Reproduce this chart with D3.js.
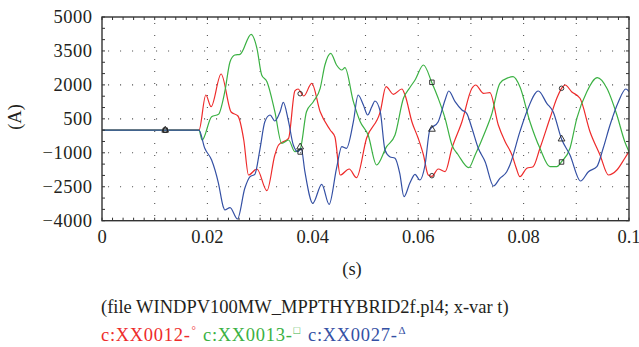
<!DOCTYPE html>
<html>
<head>
<meta charset="utf-8">
<script src="https://cdn.jsdelivr.net/npm/d3@7"></script>
<style>
  html, body { margin: 0; padding: 0; background: #fff; }
</style>
</head>
<body>
<div id="chart"></div>
<script>
// 横轴 / 纵轴刻度
const xTicks = [0, 0.02, 0.04, 0.06, 0.08, 0.1];
const xTickLabels = ['0', '0.02', '0.04', '0.06', '0.08', '0.1'];
const yTicks = [-4000, -2500, -1000, 500, 2000, 3500, 5000];
const yTickLabels = ['\u22124000', '\u22122500', '\u22121000', '500', '2000', '3500', '5000'];

// c:XX0012 (red)
const redTime = [0, 0.0184, 0.0197, 0.0207, 0.0226, 0.0245, 0.0258, 0.0269, 0.0278, 0.0294, 0.0313, 0.0328,
  0.0335, 0.0354, 0.0366, 0.0372, 0.0383, 0.0398, 0.0414, 0.0433, 0.0442, 0.0452, 0.0469, 0.0483, 0.0502,
  0.0528, 0.0539, 0.0553, 0.0569, 0.0575, 0.0588, 0.0600, 0.0610, 0.0619, 0.0626, 0.0638, 0.0651, 0.0664,
  0.0683, 0.0702, 0.0709, 0.0724, 0.0736, 0.0752, 0.0765, 0.0778, 0.0786, 0.0793, 0.0806, 0.0818, 0.0831,
  0.0850, 0.0863, 0.0872, 0.0879, 0.0891, 0.0907, 0.0926, 0.0945, 0.0961, 0.0977, 0.0992, 0.1];
const redCurrent = [0, 0, 1554, 1037, 2482, 803, 626, -434, -1980, -1715, -2674, -1097,
  -655, -359, 1731, 1819, 1510, 2071, 816, 8, -302, -1980, -1715, -2100, -359,
  816, 1921, 1585, 1819, 1554, 374, -359, -1097, -1980, -2038, -1715, -1835, -801,
  374, 1850, 1996, 1629, 1656, 229, -509, -1097, -1671, -2056, -1684, -1614, -801,
  524, 1408, 1850, 1996, 1700, 1408, -67, -1097, -1980, -1760, -1242, -950];

// c:XX0013 (green)
const greenTime = [0, 0.0184, 0.0190, 0.0208, 0.0221, 0.0233, 0.0243, 0.0252, 0.0262, 0.0283, 0.0294, 0.0303,
  0.0313, 0.0328, 0.0341, 0.0354, 0.0366, 0.0376, 0.0388, 0.0401, 0.0414, 0.0423, 0.0434, 0.0445, 0.0455,
  0.0461, 0.0477, 0.0490, 0.0505, 0.0521, 0.0540, 0.0556, 0.0572, 0.0584, 0.0594, 0.0610, 0.0626, 0.0638,
  0.0651, 0.0664, 0.0676, 0.0696, 0.0708, 0.0727, 0.0739, 0.0755, 0.0771, 0.0780, 0.0793, 0.0812, 0.0831,
  0.0850, 0.0863, 0.0872, 0.0888, 0.0901, 0.0920, 0.0940, 0.0958, 0.0977, 0.0992, 0.1];
const greenCurrent = [0, 0, -434, 595, 701, 1700, 3025, 3321, 3352, 4235, 3617, 2438,
  2142, 816, -580, -434, -951, -832, 816, 1258, 1850, 2879, 3396, 2879, 2658,
  2760, 1258, 374, -213, -1539, -730, -213, 1408, 1876, 2217, 2879, 2097, 1408,
  524, -655, -1097, -1658, -1097, -67, 670, 2071, 2318, 2362, 1921, 374, -801,
  -1614, -1614, -1393, -801, 524, 1700, 2318, 1850, 672, -509, -951];

// c:XX0027 (blue)
const blueTime = [0, 0.0184, 0.0195, 0.0208, 0.0221, 0.0230, 0.0233, 0.0243, 0.0257, 0.0271, 0.0281, 0.0290,
  0.0300, 0.0309, 0.0319, 0.0328, 0.0338, 0.0344, 0.0354, 0.0363, 0.0372, 0.0378, 0.0385, 0.0400, 0.0417,
  0.0431, 0.0445, 0.0455, 0.0464, 0.0477, 0.0486, 0.0496, 0.0504, 0.0512, 0.0518, 0.0528, 0.0537, 0.0546,
  0.0556, 0.0565, 0.0573, 0.0584, 0.0594, 0.0603, 0.0613, 0.0622, 0.0638, 0.0651, 0.0658, 0.0670, 0.0683,
  0.0692, 0.0702, 0.0714, 0.0727, 0.0743, 0.0755, 0.0768, 0.0774, 0.0793, 0.0806, 0.0828, 0.0844, 0.0856,
  0.0872, 0.0888, 0.0908, 0.0923, 0.0939, 0.0951, 0.0964, 0.0980, 0.0994, 0.1];
const blueCurrent = [0, 0, -801, -1318, -2348, -3381, -3527, -3425, -3925, -2568, -2055, -1950,
  -801, 374, 670, 405, 816, 1231, 374, -655, -951, -801, -1835, -3231, -2391,
  -3275, -1684, -730, -801, 374, 1554, 1112, 670, 1037, 1289, 816, -876, -1172,
  -1242, -1906, -2939, -2347, -1950, -2201, -1539, 8, 374, 1333, 1731, 1258, 891,
  745, 82, -801, -1393, -2467, -2127, -1835, -1539, -67, 816, 1731, 1187, 816,
  -390, -1097, -2246, -1835, -1614, -801, 229, 1258, 1819, 1700];

// 标记点
const markerTime = [0.012, 0.0376, 0.0626, 0.0872];
const redMarkers = [0, 1611, -2011, 1850];
const greenMarkers = [0, -964, 2115, -1406];
const blueMarkers = [0, -743, 39, -390];

const width = 639, height = 347;
const margin = { top: 17, left: 102 };
const innerW = 527, innerH = 203.7;
const ink = '#231f20';
const serif = "'Liberation Serif', 'Times New Roman', serif";
const fontSize = 18.5;

const svg = d3.select('#chart').append('svg')
  .attr('width', width)
  .attr('height', height)
  .style('display', 'block');

const x = d3.scaleLinear().domain([0, 0.1]).range([margin.left, margin.left + innerW]);
const y = d3.scaleLinear().domain([-4000, 5000]).range([margin.top + innerH, margin.top]);

// 点状网格
const gridX = d3.range(0.01, 0.1, 0.01);
svg.append('g').selectAll('line').data(gridX).enter().append('line')
  .attr('x1', d => x(d)).attr('x2', d => x(d))
  .attr('y1', y(5000) + 6).attr('y2', y(-4000))
  .attr('stroke', '#555').attr('stroke-width', 1.1)
  .attr('stroke-dasharray', '1.1,10.9');
svg.append('g').selectAll('line').data(yTicks.slice(1, -1)).enter().append('line')
  .attr('x1', x(0) + 6).attr('x2', x(0.1))
  .attr('y1', d => y(d)).attr('y2', d => y(d))
  .attr('stroke', '#555').attr('stroke-width', 1.1)
  .attr('stroke-dasharray', '1.1,10.9');

// 曲线
const line = (times) => d3.line()
  .x((d, i) => x(times[i]))
  .y(d => y(d))
  .curve(d3.curveMonotoneX);

const series = [
  { t: redTime, v: redCurrent, m: redMarkers, color: '#ee2b2b', shape: 'circle' },
  { t: greenTime, v: greenCurrent, m: greenMarkers, color: '#3bb143', shape: 'square' },
  { t: blueTime, v: blueCurrent, m: blueMarkers, color: '#3450a4', shape: 'triangle' }
];

svg.append('defs').append('clipPath').attr('id', 'clip')
  .append('rect').attr('x', margin.left).attr('y', margin.top)
  .attr('width', innerW).attr('height', innerH);

const plot = svg.append('g').attr('clip-path', 'url(#clip)');
series.forEach(s => {
  plot.append('path')
    .attr('d', line(s.t)(s.v))
    .attr('fill', 'none')
    .attr('stroke', s.color)
    .attr('stroke-width', 1.2);
});

// 标记
const symbolType = { circle: d3.symbolCircle, square: d3.symbolSquare, triangle: d3.symbolTriangle };
series.forEach(s => {
  const sym = d3.symbol().type(symbolType[s.shape]).size(s.shape === 'circle' ? 16 : 20);
  svg.append('g').selectAll('path').data(s.m).enter().append('path')
    .attr('transform', (d, i) => `translate(${x(markerTime[i])},${y(d)})`)
    .attr('d', sym)
    .attr('fill', 'none')
    .attr('stroke', '#222')
    .attr('stroke-width', 0.9);
});

// 边框与刻度
svg.append('rect')
  .attr('x', margin.left).attr('y', margin.top)
  .attr('width', innerW).attr('height', innerH)
  .attr('fill', 'none').attr('stroke', '#333').attr('stroke-width', 1.4);

const minorX = d3.range(0, 0.1001, 0.002);
const minorY = d3.range(-4000, 5001, 500);
const tickG = svg.append('g').attr('stroke', '#333').attr('stroke-width', 1);
tickG.selectAll('.bt').data(minorX).enter().append('line')
  .attr('x1', d => x(d)).attr('x2', d => x(d))
  .attr('y1', y(-4000)).attr('y2', y(-4000) - 3);
tickG.selectAll('.tt').data(minorX).enter().append('line')
  .attr('x1', d => x(d)).attr('x2', d => x(d))
  .attr('y1', y(5000)).attr('y2', y(5000) + 3);
tickG.selectAll('.lt').data(minorY).enter().append('line')
  .attr('x1', x(0)).attr('x2', x(0) + 3)
  .attr('y1', d => y(d)).attr('y2', d => y(d));
tickG.selectAll('.rt').data(minorY).enter().append('line')
  .attr('x1', x(0.1)).attr('x2', x(0.1) - 3)
  .attr('y1', d => y(d)).attr('y2', d => y(d));

// 刻度标签
svg.append('g').selectAll('text').data(xTicks).enter().append('text')
  .attr('x', d => x(d))
  .attr('y', 243)
  .attr('text-anchor', 'middle')
  .attr('font-family', serif)
  .attr('font-size', fontSize)
  .attr('fill', ink)
  .text((d, i) => xTickLabels[i]);

svg.append('g').selectAll('text').data(yTicks).enter().append('text')
  .attr('x', 92.5)
  .attr('y', d => y(d) + 6)
  .attr('text-anchor', 'end')
  .attr('font-family', serif)
  .attr('font-size', fontSize)
  .attr('letter-spacing', 0.5)
  .attr('fill', ink)
  .text((d, i) => yTickLabels[i]);

// 轴标题
svg.append('text')
  .attr('x', 352).attr('y', 275)
  .attr('text-anchor', 'middle')
  .attr('font-family', serif)
  .attr('font-size', fontSize)
  .attr('fill', ink)
  .text('(s)');

svg.append('text')
  .attr('transform', 'translate(21,117) rotate(-90)')
  .attr('text-anchor', 'middle')
  .attr('font-family', serif)
  .attr('font-size', fontSize)
  .attr('fill', ink)
  .text('(A)');

// 图例文字
svg.append('text')
  .attr('x', 101).attr('y', 313)
  .attr('font-family', serif)
  .attr('font-size', fontSize)
  .attr('fill', ink)
  .text('(file WINDPV100MW_MPPTHYBRID2f.pl4; x-var t)');

const legendItems = [
  { label: 'c:XX0012-', mark: '\u00b0', color: '#ee2b2b', x: 101 },
  { label: 'c:XX0013-', mark: '\u25a1', color: '#3bb143', x: 203 },
  { label: 'c:XX0027-', mark: '\u0394', color: '#3450a4', x: 308 }
];
legendItems.forEach(d => {
  const t = svg.append('text')
    .attr('x', d.x).attr('y', 341)
    .attr('font-family', serif)
    .attr('font-size', fontSize)
    .attr('fill', d.color);
  t.append('tspan').attr('letter-spacing', 0.7).text(d.label);
  t.append('tspan')
    .attr('dx', 1)
    .attr('dy', -7)
    .attr('font-size', 11)
    .text(d.mark);
});
</script>
</body>
</html>
